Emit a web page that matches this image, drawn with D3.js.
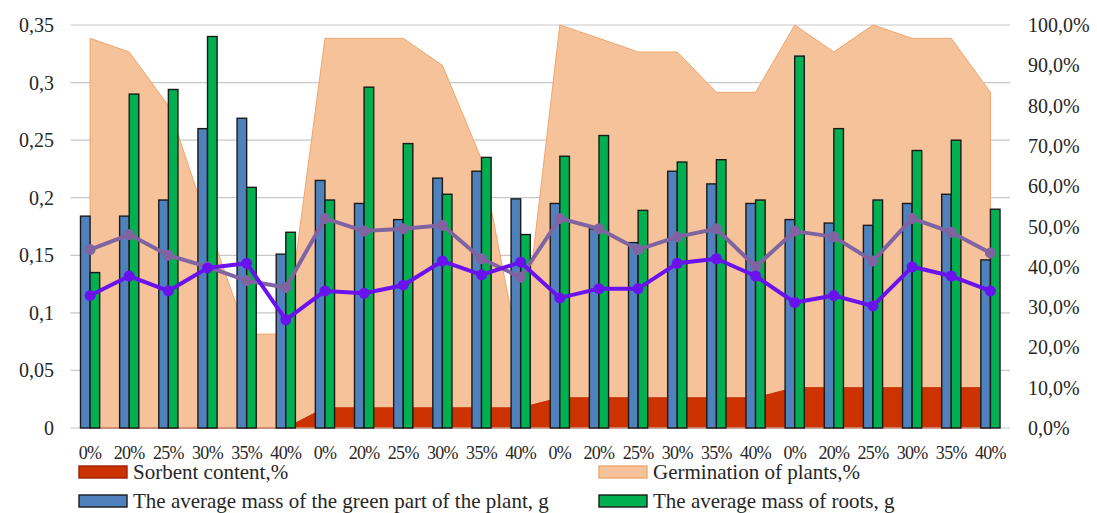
<html>
<head>
<script src="https://d3js.org/d3.v7.min.js"></script>
<style>
    body { margin: 0; background: #fff; }
    text { font-family: "Liberation Serif", "Times New Roman", serif; fill: #262626; }
</style>
</head>
<body>
<svg id="chart" width="1097" height="513"></svg>
<script>
    // categories (sorbent dose groups, 4 repeats)
    const doses = ["0%", "20%", "25%", "30%", "35%", "40%"];
    const categories = [].concat(doses, doses, doses, doses);

    // right axis, %
    const sorbent = [0, 0, 0, 0, 0, 0, 5, 5, 5, 5, 5, 5, 7.5, 7.5, 7.5, 7.5, 7.5, 7.5, 10, 10, 10, 10, 10, 10];
    const germination = [96.7, 93.3, 80, 51, 23.3, 23.3, 96.7, 96.7, 96.7, 90, 66.7, 16.7,
                         100, 96.7, 93.3, 93.3, 83.3, 83.3, 100, 93.3, 100, 96.7, 96.7, 83.3];

    // left axis, g
    const greenMass = [0.184, 0.184, 0.198, 0.260, 0.269, 0.151, 0.215, 0.195, 0.181, 0.217, 0.223, 0.199,
                       0.195, 0.173, 0.161, 0.223, 0.212, 0.195, 0.181, 0.178, 0.176, 0.195, 0.203, 0.146];
    const rootMass = [0.135, 0.290, 0.294, 0.340, 0.209, 0.170, 0.198, 0.296, 0.247, 0.203, 0.235, 0.168,
                      0.236, 0.254, 0.189, 0.231, 0.233, 0.198, 0.323, 0.260, 0.198, 0.241, 0.250, 0.190];
    const lineA = [0.155, 0.168, 0.150, 0.140, 0.128, 0.122, 0.182, 0.171, 0.173, 0.176, 0.147, 0.131,
                   0.182, 0.173, 0.155, 0.166, 0.173, 0.140, 0.171, 0.166, 0.145, 0.182, 0.170, 0.152];
    const lineB = [0.115, 0.132, 0.119, 0.139, 0.143, 0.094, 0.119, 0.117, 0.124, 0.145, 0.133, 0.144,
                   0.113, 0.121, 0.121, 0.143, 0.147, 0.132, 0.109, 0.115, 0.106, 0.140, 0.132, 0.119];

    const leftTicks = [0, 0.05, 0.1, 0.15, 0.2, 0.25, 0.3, 0.35];
    const rightTicks = [0, 10, 20, 30, 40, 50, 60, 70, 80, 90, 100];

    const svg = d3.select("#chart");
    const plotLeft = 70.5, plotRight = 1010, plotTop = 25, plotBottom = 428;
    const idx = d3.range(categories.length);

    const x = d3.scaleBand().domain(idx).range([plotLeft, plotRight]).paddingInner(0.51).paddingOuter(0.255);
    const xs = d3.scaleBand().domain(["green", "roots"]).range([0, x.bandwidth()]);
    const cx = i => x(i) + x.bandwidth() / 2;
    const yL = d3.scaleLinear().domain([0, 0.35]).range([plotBottom, plotTop]);
    const yR = d3.scaleLinear().domain([0, 100]).range([plotBottom, plotTop]);

    const comma = d => d.toString().replace(".", ",");

    // gridlines
    svg.append("g")
        .selectAll("line")
        .data(leftTicks.slice(1))
        .enter().append("line")
        .attr("x1", plotLeft).attr("x2", plotRight)
        .attr("y1", d => yL(d)).attr("y2", d => yL(d))
        .attr("stroke", "#c8c8c8").attr("stroke-width", 1.2);

    // areas
    const areaR = d3.area().x((d, i) => cx(i)).y0(yR(0)).y1(d => yR(d));
    svg.append("path").datum(germination).attr("d", areaR)
        .attr("fill", "#f6c29a").attr("stroke", "#f0a56e").attr("stroke-width", 1);
    svg.append("path").datum(sorbent).attr("d", areaR)
        .attr("fill", "#cc3300").attr("stroke", "#c42f02").attr("stroke-width", 1);

    // baseline
    svg.append("line").attr("x1", plotLeft).attr("x2", plotRight)
        .attr("y1", yL(0)).attr("y2", yL(0)).attr("stroke", "#c8c8c8").attr("stroke-width", 1.2);

    // bars
    const bars = svg.append("g");
    bars.selectAll("rect.g").data(greenMass).enter().append("rect")
        .attr("x", (d, i) => x(i) + xs("green"))
        .attr("y", d => yL(d))
        .attr("width", xs.bandwidth())
        .attr("height", d => yL(0) - yL(d))
        .attr("fill", "#4f81bd").attr("stroke", "#1a1a1a").attr("stroke-width", 1.4);
    bars.selectAll("rect.r").data(rootMass).enter().append("rect")
        .attr("x", (d, i) => x(i) + xs("roots"))
        .attr("y", d => yL(d))
        .attr("width", xs.bandwidth())
        .attr("height", d => yL(0) - yL(d))
        .attr("fill", "#00b050").attr("stroke", "#1a1a1a").attr("stroke-width", 1.4);

    // lines
    function drawLine(values, color) {
        const line = d3.line().x((d, i) => cx(i)).y(d => yL(d));
        svg.append("path").datum(values).attr("d", line)
            .attr("fill", "none").attr("stroke", color).attr("stroke-width", 4)
            .attr("stroke-linejoin", "round");
        svg.append("g").selectAll("circle").data(values).enter().append("circle")
            .attr("cx", (d, i) => cx(i)).attr("cy", d => yL(d)).attr("r", 5.5)
            .attr("fill", color);
    }
    drawLine(lineA, "#8064a2");
    drawLine(lineB, "#6a12ee");

    // left axis labels
    svg.append("g").selectAll("text").data(leftTicks).enter().append("text")
        .attr("x", 54).attr("y", d => yL(d)).attr("dy", "0.35em")
        .attr("text-anchor", "end").attr("font-size", 20)
        .text(d => comma(d));

    // right axis labels
    svg.append("g").selectAll("text").data(rightTicks).enter().append("text")
        .attr("x", 1028).attr("y", d => yR(d)).attr("dy", "0.35em")
        .attr("text-anchor", "start").attr("font-size", 20)
        .text(d => comma(d.toFixed(1)) + "%");

    // category labels
    svg.append("g").selectAll("text").data(categories).enter().append("text")
        .attr("x", (d, i) => cx(i)).attr("y", 459)
        .attr("text-anchor", "middle").attr("font-size", 18)
        .attr("letter-spacing", -0.7)
        .text(d => d);

    // legend
    const legend = [
        { label: "Sorbent content,%", fill: "#cc3300", stroke: "#a02000", x: 79, y: 466 },
        { label: "Germination of plants,%", fill: "#f6c29a", stroke: "#f0a56e", x: 599, y: 466 },
        { label: "The average mass of the green part of the plant, g", fill: "#4f81bd", stroke: "#1a1a1a", x: 79, y: 495 },
        { label: "The average mass of roots, g", fill: "#00b050", stroke: "#1a1a1a", x: 599, y: 495 }
    ];
    const lg = svg.append("g").selectAll("g").data(legend).enter().append("g")
        .attr("transform", d => "translate(" + d.x + "," + d.y + ")");
    lg.append("rect").attr("width", 48).attr("height", 12)
        .attr("fill", d => d.fill).attr("stroke", d => d.stroke).attr("stroke-width", 1.4);
    lg.append("text").attr("x", 54).attr("y", 6).attr("dy", "0.35em")
        .attr("font-size", 21).text(d => d.label);
</script>
</body>
</html>
